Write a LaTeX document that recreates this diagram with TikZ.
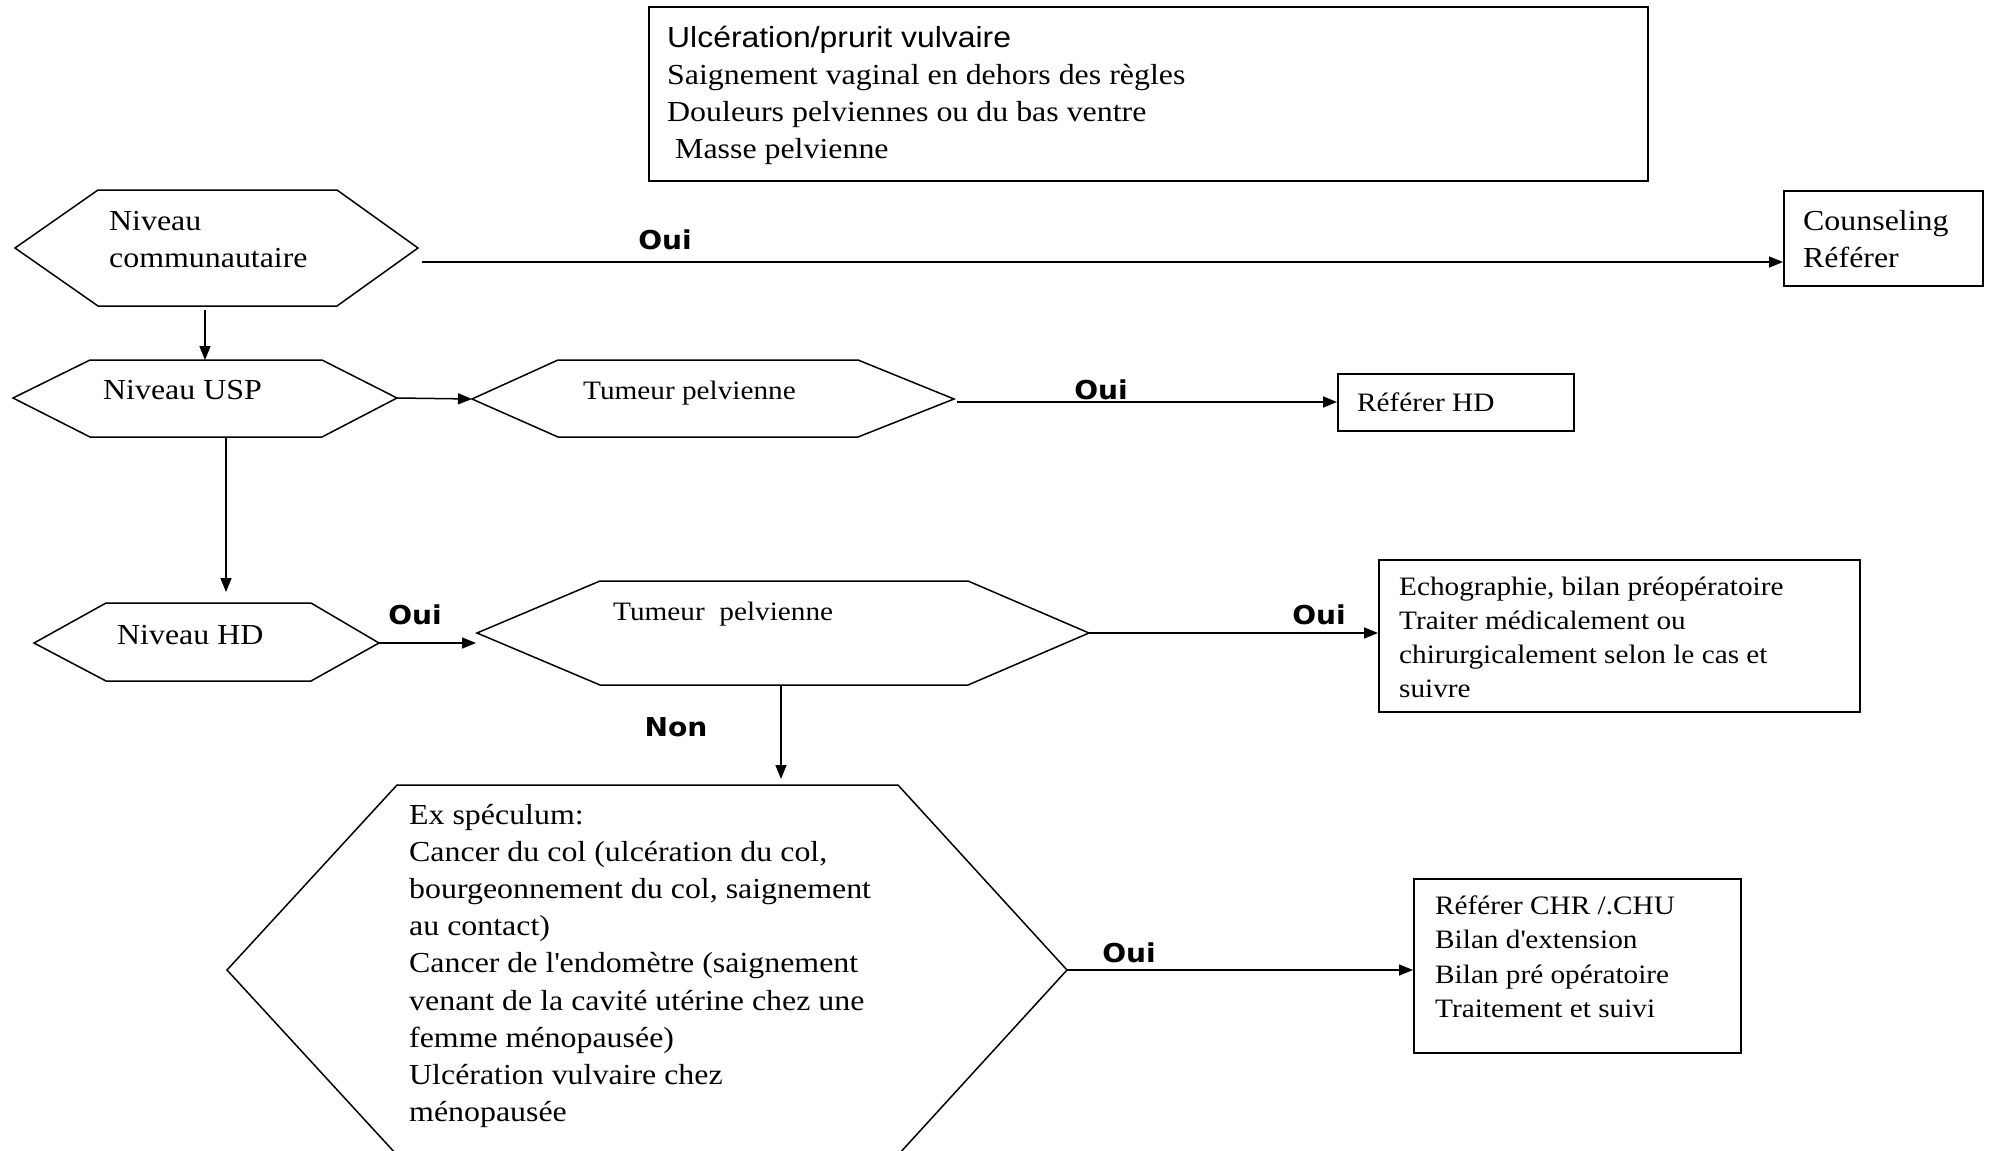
\documentclass[tikz,border=0pt]{standalone}
\usepackage{fontspec}
\setmainfont[FakeStretch=1.1]{Liberation Serif}
\newfontfamily\arialf[FakeStretch=1.1]{Liberation Sans}
\newfontfamily\ouif[FakeStretch=1.08]{DejaVu Sans}
\usetikzlibrary{arrows.meta}
\newcommand\bigf{\fontsize{29}{37.2}\selectfont}
\newcommand\smallf{\fontsize{26.6}{34}\selectfont}
\newcommand\hexa[8]{%
  \coordinate (#1-l) at (#2,#7);
  \coordinate (#1-r) at (#5,#7);
  \coordinate (#1-t) at ({(#3+#4)/2},#6);
  \coordinate (#1-b) at ({(#3+#4)/2},#8);
  \draw[shp] (#1-l) -- (#3,#6) -- (#4,#6) -- (#1-r) -- (#4,#8) -- (#3,#8) -- cycle;}
\tikzset{
  shp/.style={draw, line width=1.5pt, line join=miter},
  box/.style={draw, line width=1.5pt, inner sep=0pt, anchor=north west},
  arr/.style={line width=1.5pt, -{Triangle[length=14pt,width=11pt]}},
  txt/.style={inner sep=0pt, anchor=base west, font=\bigf},
  stxt/.style={inner sep=0pt, anchor=base west, font=\smallf},
  lab/.style={inner sep=0pt, anchor=base, font=\ouif\bfseries\fontsize{26}{30}\selectfont},
}
\begin{document}
\begin{tikzpicture}[x=1pt,y=-1pt]
\useasboundingbox (0,0) rectangle (1989,1151);
\clip (0,0) rectangle (1989,1151);
\fill[white] (0,0) rectangle (1989,1151);

% boxes
\node[box, minimum width=999pt, minimum height=174pt] (top) at (648,6) {};
\node[box, minimum width=199pt, minimum height=95pt] (counsel) at (1783,190) {};
\node[box, minimum width=236pt, minimum height=57pt] (refhd) at (1337,373) {};
\node[box, minimum width=481pt, minimum height=152pt] (echo) at (1378,559) {};
\node[box, minimum width=327pt, minimum height=174pt] (chr) at (1413,878) {};

% hexagons
\hexa{h1}{15}{98}{337}{418}{190}{248}{306}
\hexa{h2}{13}{90}{322}{397}{360}{398}{437}
\hexa{h3}{472}{558}{858}{954}{360}{399}{437}
\hexa{h4}{34}{106}{311}{379}{603}{643}{681}
\hexa{h5}{477}{600}{968}{1089}{581}{633}{685}
\hexa{h6}{227}{397}{898}{1067}{785}{970}{1155}

% texts
\node[txt] (toptxt) at (667,47) {\vtop{\hbox{\arialf Ulcération/prurit vulvaire}\hbox{Saignement vaginal en dehors des règles}\hbox{Douleurs pelviennes ou du bas ventre}\hbox{\ Masse pelvienne}}};
\node[txt] (h1txt) at (109,230) {\vtop{\hbox{Niveau}\hbox{communautaire}}};
\node[txt] (counseltxt) at (1803,230) {\vtop{\hbox{Counseling}\hbox{Référer}}};
\node[txt] (h2txt) at (103,399) {Niveau USP};
\node[stxt] (h3txt) at (583,399) {Tumeur pelvienne};
\node[stxt] (refhdtxt) at (1357,411) {Référer HD};
\node[txt] (h4txt) at (117,644) {Niveau HD};
\node[stxt] (h5txt) at (613,620) {Tumeur\ \ pelvienne};
\node[stxt] (echotxt) at (1399,595) {\vtop{\hbox{Echographie, bilan préopératoire}\hbox{Traiter médicalement ou}\hbox{chirurgicalement selon le cas et}\hbox{suivre}}};
\node[txt] (h6txt) at (409,824) {\vtop{\hbox{Ex spéculum:}\hbox{Cancer du col (ulcération du col,}\hbox{bourgeonnement du col, saignement}\hbox{au contact)}\hbox{Cancer de l\textquotesingle endomètre (saignement}\hbox{venant de la cavité utérine chez une}\hbox{femme ménopausée)}\hbox{Ulcération vulvaire chez}\hbox{ménopausée}}};
\node[stxt] (chrtxt) at (1435,914) {\vtop{\baselineskip=34.5pt\hbox{Référer CHR /.CHU}\hbox{Bilan d\textquotesingle extension}\hbox{Bilan pré opératoire}\hbox{Traitement et suivi}}};

% connectors
\coordinate (c1) at (422,262);
\draw[arr] (c1) -- (c1 -| counsel.west);
\coordinate (c2) at (205,310);
\draw[arr] (c2) -- (c2 |- h2-t);
\draw[arr] (h2-r) -- (h3-l);
\coordinate (c4) at (957,402);
\draw[arr] (c4) -- (c4 -| refhd.west);
\coordinate (c5s) at (226,437);
\coordinate (c5e) at (226,592);
\draw[arr] (c5s) -- (c5e);
\coordinate (c6e) at (476,643);
\draw[arr] (h4-r) -- (c6e);
\draw[arr] (h5-r) -- (h5-r -| echo.west);
\coordinate (c8s) at (781,685);
\coordinate (c8e) at (781,779);
\draw[arr] (c8s) -- (c8e);
\draw[arr] (h6-r) -- (h6-r -| chr.west);

% labels
\node[lab] (oui1) at (665,249) {Oui};
\node[lab] (oui2) at (1101,399) {Oui};
\node[lab] (oui3) at (415,624) {Oui};
\node[lab] (oui4) at (1319,624) {Oui};
\node[lab] (oui5) at (1129,962) {Oui};
\node[lab] (non) at (676,736) {Non};
\end{tikzpicture}
\end{document}
